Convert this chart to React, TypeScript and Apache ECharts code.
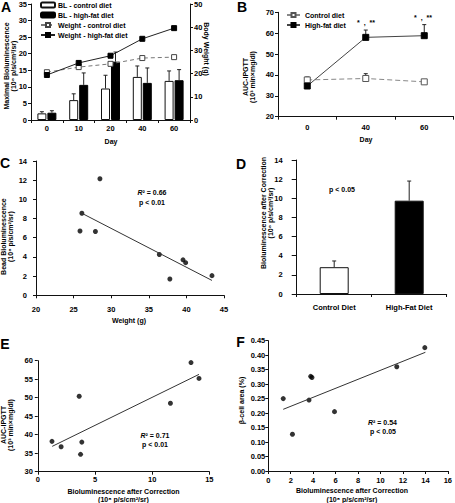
import React, { useEffect, useRef } from 'react';
import * as echarts from 'echarts';

// ---------- Panel A ----------
const dayLabels = ['0', '10', '20', '40', '60'];
const blControlMean = [2.0, 6.0, 9.5, 13.0, 11.8];
const blControlUpper = [2.5, 7.9, 13.5, 16.3, 14.8];
const blHighFatMean = [2.2, 10.6, 17.6, 11.2, 12.0];
const blHighFatUpper = [2.8, 14.2, 20.5, 15.7, 15.2];
const weightControl = [20.6, 22.8, 24.2, 26.7, 27.1];
const weightHighFat = [19.4, 24.6, 27.7, 35.0, 39.6];

// ---------- Panel B ----------
const ipgttDays = ['0', '40', '60'];
const aucControl = [37.6, 38.3, 36.7];
const aucControlUpper = [39.0, 40.6, null];
const aucHighFat = [34.7, 58.0, 58.8];
const aucHighFatUpper = [null, 61.5, 64.1];

// ---------- Panel C ----------
const cWeight = [25.85, 26.1, 27.9, 28.5, 36.4, 37.8, 39.55, 39.9, 43.4];
const cBead = [6.7, 8.55, 6.65, 12.15, 4.25, 1.7, 3.7, 3.4, 2.05];
const cTrendX = [26.1, 43.4];
const cTrendY = [8.55, 1.55];

// ---------- Panel D ----------
const dGroups = ['Control Diet', 'High-Fat Diet'];
const dMean = [2.8, 9.75];
const dUpper = [3.45, 11.8];
const dFill = ['#ffffff', '#000000'];

// ---------- Panel E ----------
const eBio = [1.24, 2.04, 3.62, 3.85, 3.74, 11.6, 13.4, 14.1];
const eAuc = [38.2, 36.75, 50.4, 38.0, 34.7, 48.5, 59.5, 55.2];
const eTrendX = [1.26, 14.1];
const eTrendY = [36.85, 56.3];

// ---------- Panel F ----------
const fBio = [1.33, 2.15, 3.63, 3.78, 3.89, 5.9, 11.45, 13.95];
const fBeta = [0.25, 0.127, 0.245, 0.327, 0.323, 0.205, 0.36, 0.426];
const fTrendX = [1.33, 14.0];
const fTrendY = [0.213, 0.41];

const FONT = 'Liberation Sans, Arial, Helvetica, sans-serif';
const INK = '#000000';

const zip = (a: number[], b: (number | null)[]) => a.map((v, i) => [v, b[i]]);

const makeErr = (offset: number, cap: number) => (params: any, api: any) => {
  const lo = api.coord([api.value(0), api.value(1)]);
  const hi = api.coord([api.value(0), api.value(2)]);
  const x = lo[0] + offset;
  const st = { stroke: '#222', lineWidth: 1 };
  return {
    type: 'group',
    children: [
      { type: 'line', shape: { x1: x, y1: lo[1], x2: x, y2: hi[1] }, style: st },
      { type: 'line', shape: { x1: x - cap / 2, y1: hi[1], x2: x + cap / 2, y2: hi[1] }, style: st },
    ],
  };
};

const errData = (means: number[], uppers: (number | null)[]) =>
  means
    .map((m, i) => [i, m, uppers[i]])
    .filter((d) => d[2] !== null && d[2] !== undefined);

const axisLine = { show: true, onZero: false, lineStyle: { color: '#111', width: 1 } };
const tick = (len = 3) => ({ show: true, length: len, lineStyle: { color: '#111', width: 1 } });
const label = (margin: number, extra: any = {}) => ({
  fontFamily: FONT,
  fontSize: 7.5,
  fontWeight: 'bold',
  color: INK,
  margin,
  ...extra,
});

const txt = (x: number, y: number, text: string, o: any = {}) => {
  const style: any = {
    text,
    fontFamily: FONT,
    fontSize: o.size || 7,
    fontWeight: 'bold',
    fill: INK,
    align: o.align || 'center',
    verticalAlign: 'middle',
    lineHeight: o.lh || 7,
  };
  if (o.rich) style.rich = o.rich;
  return { type: 'text', x, y, rotation: o.rotation || 0, z: 100, style };
};

const richR = {
  i: { fontStyle: 'italic', fontWeight: 'bold', fontSize: 7, fontFamily: FONT, fill: INK, color: INK },
  n: { fontWeight: 'bold', fontSize: 7, fontFamily: FONT, fill: INK, color: INK },
};

const option: any = {
  animation: false,
  backgroundColor: '#ffffff',
  textStyle: { fontFamily: FONT, color: INK },
  grid: [
    { left: 31, top: 3.3, width: 159, height: 116.7 }, // A
    { left: 278, top: 12.3, width: 175.5, height: 104.4 }, // B
    { left: 36, top: 161, width: 188, height: 134.3 }, // C
    { left: 296.7, top: 160, width: 150, height: 134 }, // D
    { left: 37.8, top: 360.7, width: 171.5, height: 111 }, // E
    { left: 268.3, top: 340.7, width: 180.7, height: 130.3 }, // F
  ],
  xAxis: [
    { type: 'category', gridIndex: 0, data: dayLabels, axisLine, axisTick: tick(3), axisLabel: label(4) },
    { type: 'category', gridIndex: 1, data: ipgttDays, axisLine, axisTick: tick(3), axisLabel: label(7) },
    { type: 'value', gridIndex: 2, min: 20, max: 45, interval: 5, axisLine, axisTick: tick(3), axisLabel: label(10), splitLine: { show: false } },
    { type: 'category', gridIndex: 3, data: dGroups, axisLine, axisTick: tick(3), axisLabel: label(9) },
    { type: 'value', gridIndex: 4, min: 0, max: 15, interval: 5, axisLine, axisTick: tick(3), axisLabel: label(4), splitLine: { show: false } },
    { type: 'value', gridIndex: 5, min: 0, max: 16, interval: 2, axisLine, axisTick: tick(3), axisLabel: label(5), splitLine: { show: false } },
  ],
  yAxis: [
    { type: 'value', gridIndex: 0, min: 0, max: 35, interval: 5, axisLine, axisTick: tick(3), axisLabel: label(4), splitLine: { show: false } },
    { type: 'value', gridIndex: 0, position: 'right', min: 0, max: 50, interval: 10, axisLine, axisTick: tick(3), axisLabel: label(4), splitLine: { show: false } },
    { type: 'value', gridIndex: 1, min: 20, max: 70, interval: 10, axisLine, axisTick: tick(3), axisLabel: label(4), splitLine: { show: false } },
    { type: 'value', gridIndex: 2, min: 0, max: 14, interval: 2, axisLine, axisTick: tick(3), axisLabel: label(9), splitLine: { show: false } },
    { type: 'value', gridIndex: 3, min: 0, max: 14, interval: 2, axisLine, axisTick: tick(5), axisLabel: label(14), splitLine: { show: false } },
    { type: 'value', gridIndex: 4, min: 30, max: 60, interval: 5, axisLine, axisTick: tick(3), axisLabel: label(5), splitLine: { show: false } },
    { type: 'value', gridIndex: 5, min: 0, max: 0.45, interval: 0.05, axisLine, axisTick: tick(3), axisLabel: label(3, { formatter: (v: number) => v.toFixed(2) }), splitLine: { show: false } },
  ],
  legend: [
    {
      data: ['BL - control diet', 'BL - high-fat diet', 'Weight - control diet', 'Weight - high-fat diet'],
      orient: 'vertical',
      left: 40,
      top: 1,
      padding: 0,
      itemWidth: 14,
      itemHeight: 5,
      itemGap: 2,
      selectedMode: false,
      textStyle: { fontFamily: FONT, fontSize: 7, fontWeight: 'bold', color: INK, lineHeight: 8, padding: [0, 0, 0, -2] },
    },
    {
      data: ['Control diet', 'High-fat diet'],
      orient: 'vertical',
      left: 286,
      top: 11,
      padding: 0,
      itemWidth: 13,
      itemHeight: 5,
      itemGap: 2,
      selectedMode: false,
      textStyle: { fontFamily: FONT, fontSize: 7, fontWeight: 'bold', color: INK, lineHeight: 8 },
    },
  ],
  series: [
    // ---- A ----
    {
      name: 'BL - control diet', type: 'bar', xAxisIndex: 0, yAxisIndex: 0, data: blControlMean,
      barWidth: 9, barGap: '11%',
      itemStyle: { color: '#ffffff', borderColor: '#111', borderWidth: 1 },
    },
    {
      name: 'BL - high-fat diet', type: 'bar', xAxisIndex: 0, yAxisIndex: 0, data: blHighFatMean,
      barWidth: 9, barGap: '11%',
      itemStyle: { color: '#000000', borderColor: '#000', borderWidth: 1 },
    },
    {
      type: 'custom', xAxisIndex: 0, yAxisIndex: 0, renderItem: makeErr(-5, 4),
      data: errData(blControlMean, blControlUpper), encode: { x: 0, y: [1, 2] }, z: 3,
    },
    {
      type: 'custom', xAxisIndex: 0, yAxisIndex: 0, renderItem: makeErr(5, 4),
      data: errData(blHighFatMean, blHighFatUpper), encode: { x: 0, y: [1, 2] }, z: 3,
    },
    {
      name: 'Weight - control diet', type: 'line', xAxisIndex: 0, yAxisIndex: 1, data: weightControl,
      symbol: 'rect', symbolSize: 5, z: 5,
      itemStyle: { color: '#ffffff', borderColor: '#444', borderWidth: 1 },
      lineStyle: { color: '#777', width: 1, type: [4, 3] },
    },
    {
      name: 'Weight - high-fat diet', type: 'line', xAxisIndex: 0, yAxisIndex: 1, data: weightHighFat,
      symbol: 'rect', symbolSize: 5, z: 5,
      itemStyle: { color: '#000000', borderColor: '#000', borderWidth: 1 },
      lineStyle: { color: '#222', width: 1 },
    },
    // ---- B ----
    {
      type: 'custom', xAxisIndex: 1, yAxisIndex: 2, renderItem: makeErr(0, 4),
      data: errData(aucControl, aucControlUpper), encode: { x: 0, y: [1, 2] }, z: 3,
    },
    {
      type: 'custom', xAxisIndex: 1, yAxisIndex: 2, renderItem: makeErr(0, 4),
      data: errData(aucHighFat, aucHighFatUpper), encode: { x: 0, y: [1, 2] }, z: 3,
    },
    {
      name: 'Control diet', type: 'line', xAxisIndex: 1, yAxisIndex: 2, data: aucControl,
      symbol: 'rect', symbolSize: 6, z: 5,
      itemStyle: { color: '#ffffff', borderColor: '#555', borderWidth: 1 },
      lineStyle: { color: '#888', width: 1, type: [5, 3] },
    },
    {
      name: 'High-fat diet', type: 'line', xAxisIndex: 1, yAxisIndex: 2, data: aucHighFat,
      symbol: 'rect', symbolSize: 6, z: 5,
      itemStyle: { color: '#000000', borderColor: '#000', borderWidth: 1 },
      lineStyle: { color: '#444', width: 1 },
    },
    // ---- C ----
    {
      type: 'line', xAxisIndex: 2, yAxisIndex: 3, data: zip(cTrendX, cTrendY), symbol: 'none',
      lineStyle: { color: '#333', width: 1 },
    },
    {
      type: 'scatter', xAxisIndex: 2, yAxisIndex: 3, data: zip(cWeight, cBead), symbolSize: 5,
      itemStyle: { color: '#000' },
    },
    // ---- D ----
    {
      type: 'bar', xAxisIndex: 3, yAxisIndex: 4, barWidth: 29,
      data: dMean.map((v, i) => ({ value: v, itemStyle: { color: dFill[i], borderColor: '#111', borderWidth: 1 } })),
    },
    {
      type: 'custom', xAxisIndex: 3, yAxisIndex: 4, renderItem: makeErr(0, 4),
      data: errData(dMean, dUpper), encode: { x: 0, y: [1, 2] }, z: 3,
    },
    // ---- E ----
    {
      type: 'line', xAxisIndex: 4, yAxisIndex: 5, data: zip(eTrendX, eTrendY), symbol: 'none',
      lineStyle: { color: '#333', width: 1 },
    },
    {
      type: 'scatter', xAxisIndex: 4, yAxisIndex: 5, data: zip(eBio, eAuc), symbolSize: 5,
      itemStyle: { color: '#000' },
    },
    // ---- F ----
    {
      type: 'line', xAxisIndex: 5, yAxisIndex: 6, data: zip(fTrendX, fTrendY), symbol: 'none',
      lineStyle: { color: '#333', width: 1 },
    },
    {
      type: 'scatter', xAxisIndex: 5, yAxisIndex: 6, data: zip(fBio, fBeta), symbolSize: 5,
      itemStyle: { color: '#000' },
    },
  ],
  graphic: [
    // panel letters
    txt(6, 7, 'A', { size: 14, lh: 14 }),
    txt(242, 6.5, 'B', { size: 14, lh: 14 }),
    txt(5, 163, 'C', { size: 14, lh: 14 }),
    txt(241, 163.5, 'D', { size: 14, lh: 14 }),
    txt(5, 343.5, 'E', { size: 14, lh: 14 }),
    txt(240.5, 342.3, 'F', { size: 14, lh: 14 }),
    // axis names
    txt(10, 66, 'Maximal Bioluminescence\n(10⁸ p/s/cm²/sr)', { rotation: Math.PI / 2 }),
    txt(206.7, 49, 'Body Weight (g)', { rotation: -Math.PI / 2 }),
    txt(111, 141, 'Day'),
    txt(249.2, 77, 'AUC-IPGTT\n(10³ min×mg/dl)', { rotation: Math.PI / 2 }),
    txt(366, 139.5, 'Day'),
    txt(7, 236.6, 'Bead Bioluminescence\n(10⁸ p/s/cm²/sr)', { rotation: Math.PI / 2 }),
    txt(129, 320, 'Weight (g)'),
    txt(266.5, 213, 'Bioluminescence after Correction\n(10⁸ p/s/cm²/sr)', { rotation: Math.PI / 2 }),
    txt(7, 425, 'AUC-IPGTT\n(10³ min×mg/dl)', { rotation: Math.PI / 2 }),
    txt(123.5, 491, 'Bioluminescence after Correction'),
    txt(123.5, 499.5, '(10⁸ p/s/cm²/sr)'),
    txt(241.7, 400.5, 'β-cell area (%)', { rotation: Math.PI / 2 }),
    txt(352, 490.5, 'Bioluminescence after Correction'),
    txt(352, 499, '(10⁸ p/s/cm²/sr)'),
    // annotations
    txt(152, 192, '{i|R}{n|² = 0.66}', { rich: richR }),
    txt(152, 202, 'p < 0.01'),
    txt(342, 189, 'p < 0.05'),
    txt(155, 435, '{i|R}{n|² = 0.71}', { rich: richR }),
    txt(155, 444.5, 'p < 0.01'),
    txt(382.5, 422.3, '{i|R}{n|² = 0.54}', { rich: richR }),
    txt(383, 431.7, 'p < 0.05'),
    txt(366, 22, '*  ,  **', { size: 7 }),
    txt(423, 17, '*  ,  **', { size: 7 }),
  ],
};

export default function App() {
  const ref = useRef<HTMLDivElement>(null);
  useEffect(() => {
    const chart = echarts.init(ref.current!, null, { renderer: 'svg' });
    chart.setOption(option);
    return () => chart.dispose();
  }, []);
  return (
    <div
      ref={ref}
      style={{ position: 'absolute', left: 0, top: 0, width: 455, height: 503, background: '#fff' }}
    />
  );
}
